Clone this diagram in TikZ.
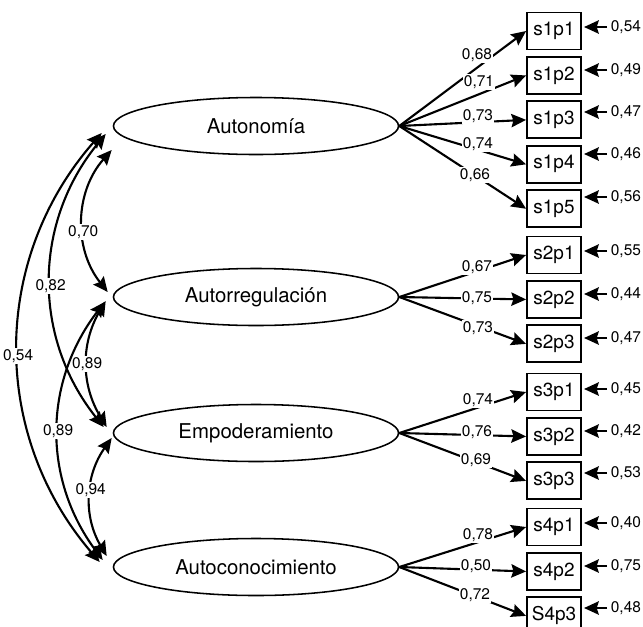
\documentclass[tikz,border=0pt]{standalone}
\usepackage{fontspec}
\setmainfont{TeX Gyre Heros}
\usetikzlibrary{positioning,shapes.geometric,arrows.meta}

\begin{document}
\begin{tikzpicture}[
	x=0.025cm,
	y=0.025cm,
	latent/.style={
		shape=ellipse,
		draw,
		line width=1.1pt,
		minimum width=71.25mm,
		minimum height=14.25mm,
		inner sep=0pt,
		font=\fontsize{14.5}{17}\selectfont,
	},
	indicator/.style={
		shape=rectangle,
		draw,
		line width=1.3pt,
		minimum width=13.5mm,
		minimum height=9.25mm,
		inner sep=0pt,
		font=\fontsize{13.5}{16}\selectfont,
	},
	loading/.style={
		fill=white,
		inner sep=1pt,
		font=\fontsize{11}{13}\selectfont,
	},
	resid/.style={
		anchor=west,
		inner sep=2pt,
		font=\fontsize{11}{13}\selectfont,
	},
	tip/.style={-{Stealth[length=10.5pt,width=9.5pt,inset=1.5pt]}},
	twotip/.style={{Stealth[length=10.5pt,width=9.5pt,inset=1.5pt]}-{Stealth[length=10.5pt,width=9.5pt,inset=1.5pt]}},
	line width=1.5pt,
	node distance=1.4mm,
]
\useasboundingbox (0,0) rectangle (643,-626);

\node (aut) [latent] at (256,-126) {Autonomía};
\node (autr) [latent] at (256,-297) {Autorregulación};
\node (emp) [latent] at (256,-433) {Empoderamiento};
\node (autc) [latent] at (256,-567) {Autoconocimiento};

\node (s1p1) [indicator] at (554,-31) {s1p1};
\node (s1p2) [indicator, below=of s1p1] {s1p2};
\node (s1p3) [indicator, below=of s1p2] {s1p3};
\node (s1p4) [indicator, below=of s1p3] {s1p4};
\node (s1p5) [indicator, below=of s1p4] {s1p5};
\node (s2p1) [indicator] at (554,-255) {s2p1};
\node (s2p2) [indicator, below=of s2p1] {s2p2};
\node (s2p3) [indicator, below=of s2p2] {s2p3};
\node (s3p1) [indicator] at (554,-392) {s3p1};
\node (s3p2) [indicator, below=of s3p1] {s3p2};
\node (s3p3) [indicator, below=of s3p2] {s3p3};
\node (s4p1) [indicator] at (554,-527) {s4p1};
\node (s4p2) [indicator, below=of s4p1] {s4p2};
\node (s4p3) [indicator, below=of s4p2] {S4p3};

% correlations between factors
\draw[twotip] ([shift={(-1,-24)}]aut.west) to[bend right=40] node (c12) [loading, pos=0.58] {0,70} ([shift={(-5,5)}]autr.west);
\draw[twotip] ([shift={(-7,-8)}]aut.west) to[bend right=39] node (c13) [loading, pos=0.52] {0,82} ([shift={(-9,6)}]emp.west);
\draw[twotip] ([shift={(-11,-7)}]aut.west) to[bend right=41] node (c14) [loading, pos=0.52] {0,54} ([shift={(-13,5)}]autc.west);
\draw[twotip] ([shift={(-7,-4)}]autr.west) to[bend right=31] node (c23) [loading] {0,89} ([shift={(-6,6)}]emp.west);
\draw[twotip] ([shift={(-8,-5)}]autr.west) to[bend right=37] node (c24) [loading] {0,89} ([shift={(-10,7)}]autc.west);
\draw[twotip] ([shift={(-1,-5)}]emp.west) to[bend right=33] node (c34) [loading, pos=0.45] {0,94} ([shift={(-6,11)}]autc.west);

% factor loadings
\draw[tip] (aut.east) -- (s1p1.west);
\draw[tip] (aut.east) -- (s1p2.west);
\draw[tip] (aut.east) -- (s1p3.west);
\draw[tip] (aut.east) -- (s1p4.west);
\draw[tip] (aut.east) -- (s1p5.west);
\draw[tip] (autr.east) -- (s2p1.west);
\draw[tip] (autr.east) -- (s2p2.west);
\draw[tip] (autr.east) -- (s2p3.west);
\draw[tip] (emp.east) -- (s3p1.west);
\draw[tip] (emp.east) -- (s3p2.west);
\draw[tip] (emp.east) -- (s3p3.west);
\draw[tip] (autc.east) -- (s4p1.west);
\draw[tip] (autc.east) -- (s4p2.west);
\draw[tip] (autc.east) -- (s4p3.west);

\node (l11) [loading] at (477,-55) {0,68};
\node (l12) [loading] at (479,-82) {0,71};
\node (l13) [loading] at (478,-116) {0,73};
\node (l14) [loading] at (478,-144) {0,74};
\node (l15) [loading] at (475,-175) {0,66};
\node (l21) [loading] at (477,-267) {0,67};
\node (l22) [loading] at (477,-298) {0,75};
\node (l23) [loading] at (478,-328) {0,73};
\node (l31) [loading] at (478,-400) {0,74};
\node (l32) [loading] at (477,-432) {0,76};
\node (l33) [loading] at (476,-460) {0,69};
\node (l41) [loading] at (478,-535) {0,78};
\node (l42) [loading] at (476,-566) {0,50};
\node (l43) [loading] at (475,-595) {0,72};

% error terms
\node (e11) [resid] at (607,-27) {0,54};
\node (e12) [resid] at (607,-70) {0,49};
\node (e13) [resid] at (607,-112) {0,47};
\node (e14) [resid] at (607,-154) {0,46};
\node (e15) [resid] at (607,-197) {0,56};
\node (e21) [resid] at (607,-251) {0,55};
\node (e22) [resid] at (607,-294) {0,44};
\node (e23) [resid] at (607,-338) {0,47};
\node (e31) [resid] at (607,-389) {0,45};
\node (e32) [resid] at (607,-431) {0,42};
\node (e33) [resid] at (607,-473) {0,53};
\node (e41) [resid] at (607,-523) {0,40};
\node (e42) [resid] at (607,-566) {0,75};
\node (e43) [resid] at (607,-608) {0,48};

\draw[tip, shorten >=1.5pt] (e11.west) -- (e11.west -| s1p1.east);
\draw[tip, shorten >=1.5pt] (e12.west) -- (e12.west -| s1p2.east);
\draw[tip, shorten >=1.5pt] (e13.west) -- (e13.west -| s1p3.east);
\draw[tip, shorten >=1.5pt] (e14.west) -- (e14.west -| s1p4.east);
\draw[tip, shorten >=1.5pt] (e15.west) -- (e15.west -| s1p5.east);
\draw[tip, shorten >=1.5pt] (e21.west) -- (e21.west -| s2p1.east);
\draw[tip, shorten >=1.5pt] (e22.west) -- (e22.west -| s2p2.east);
\draw[tip, shorten >=1.5pt] (e23.west) -- (e23.west -| s2p3.east);
\draw[tip, shorten >=1.5pt] (e31.west) -- (e31.west -| s3p1.east);
\draw[tip, shorten >=1.5pt] (e32.west) -- (e32.west -| s3p2.east);
\draw[tip, shorten >=1.5pt] (e33.west) -- (e33.west -| s3p3.east);
\draw[tip, shorten >=1.5pt] (e41.west) -- (e41.west -| s4p1.east);
\draw[tip, shorten >=1.5pt] (e42.west) -- (e42.west -| s4p2.east);
\draw[tip, shorten >=1.5pt] (e43.west) -- (e43.west -| s4p3.east);
\end{tikzpicture}
\end{document}
